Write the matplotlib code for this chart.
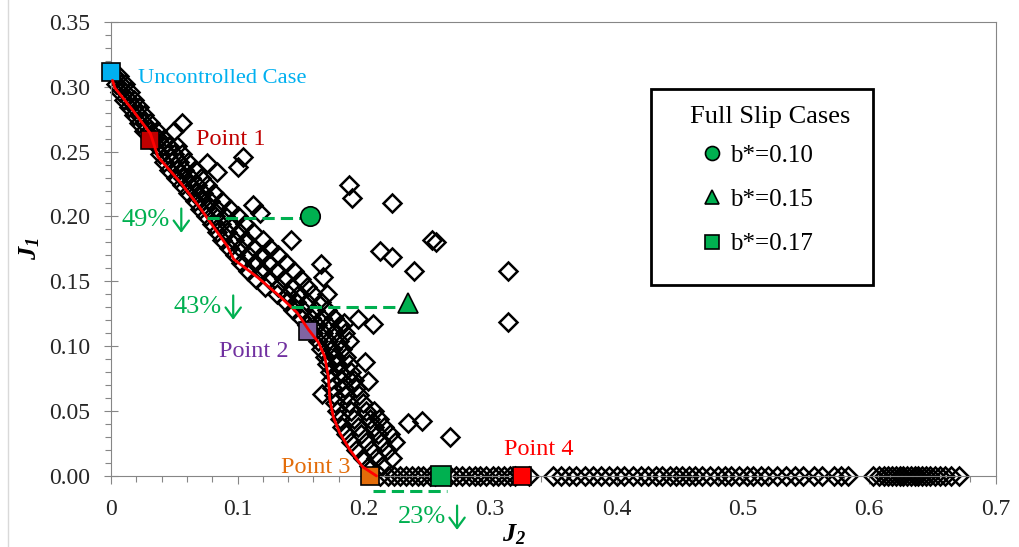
import matplotlib
matplotlib.use('Agg')
import matplotlib.pyplot as plt
from matplotlib.ticker import MultipleLocator, FuncFormatter
from matplotlib.lines import Line2D
from matplotlib.patches import Rectangle
from matplotlib.transforms import offset_copy

plt.rcParams['font.family'] = ['Liberation Serif', 'DejaVu Sans']
plt.rcParams['mathtext.fontset'] = 'custom'
plt.rcParams['mathtext.it'] = 'Liberation Serif:italic:bold'
plt.rcParams['mathtext.rm'] = 'Liberation Serif:italic:bold'

# Pareto front (red line)
FRONT_J2 = [0.001, 0.003, 0.017, 0.031, 0.037, 0.055, 0.070, 0.092, 0.097, 0.116,
            0.134, 0.147, 0.156, 0.164, 0.169, 0.172, 0.173, 0.176, 0.181, 0.189,
            0.199, 0.210]
FRONT_J1 = [0.305, 0.299, 0.282, 0.264, 0.246, 0.226, 0.207, 0.177, 0.167, 0.153,
            0.138, 0.126, 0.113, 0.103, 0.092, 0.076, 0.059, 0.045, 0.033, 0.020,
            0.007, 0.000]

# evaluated designs along the front, grouped by J1 level: (J1, J2 values)
BAND = [
    (0.308, [0.003, 0.006]),
    (0.302, [0.004, 0.008, 0.011]),
    (0.296, [0.007, 0.011, 0.015]),
    (0.290, [0.010, 0.014, 0.018]),
    (0.284, [0.014, 0.018, 0.022]),
    (0.278, [0.018, 0.022, 0.026]),
    (0.272, [0.022, 0.026, 0.031]),
    (0.266, [0.026, 0.031, 0.036]),
    (0.260, [0.034, 0.038, 0.042]),
    (0.254, [0.036, 0.041, 0.046, 0.052]),
    (0.248, [0.039, 0.045, 0.050, 0.056]),
    (0.242, [0.042, 0.048, 0.054, 0.061]),
    (0.236, [0.046, 0.052, 0.058, 0.066]),
    (0.230, [0.051, 0.057, 0.063, 0.071]),
    (0.224, [0.056, 0.062, 0.068, 0.076]),
    (0.218, [0.061, 0.067, 0.073, 0.081]),
    (0.212, [0.066, 0.072, 0.078, 0.088]),
    (0.206, [0.070, 0.077, 0.084, 0.094]),
    (0.200, [0.075, 0.082, 0.090, 0.100]),
    (0.194, [0.080, 0.087, 0.095, 0.106]),
    (0.188, [0.084, 0.092, 0.101, 0.112]),
    (0.182, [0.088, 0.097, 0.107, 0.120]),
    (0.176, [0.093, 0.102, 0.113, 0.126]),
    (0.170, [0.098, 0.108, 0.119, 0.132]),
    (0.164, [0.103, 0.114, 0.125, 0.138]),
    (0.158, [0.108, 0.119, 0.131, 0.145]),
    (0.152, [0.115, 0.125, 0.137, 0.150]),
    (0.146, [0.122, 0.132, 0.143, 0.155]),
    (0.140, [0.131, 0.140, 0.149, 0.160]),
    (0.134, [0.138, 0.146, 0.155, 0.166]),
    (0.128, [0.144, 0.152, 0.161, 0.171]),
    (0.122, [0.150, 0.158, 0.167, 0.176]),
    (0.116, [0.155, 0.163, 0.172, 0.181]),
    (0.110, [0.160, 0.168, 0.176, 0.185]),
    (0.104, [0.164, 0.172, 0.180, 0.188]),
    (0.098, [0.166, 0.175, 0.183]),
    (0.092, [0.169, 0.177, 0.186]),
    (0.086, [0.171, 0.179, 0.188]),
    (0.080, [0.173, 0.181, 0.190]),
    (0.074, [0.174, 0.183, 0.192]),
    (0.068, [0.175, 0.184, 0.194]),
    (0.062, [0.176, 0.186, 0.196]),
    (0.056, [0.177, 0.188, 0.199]),
    (0.050, [0.179, 0.190, 0.202, 0.208]),
    (0.044, [0.181, 0.192, 0.205, 0.212]),
    (0.038, [0.183, 0.195, 0.208, 0.216]),
    (0.032, [0.186, 0.198, 0.211, 0.221]),
    (0.026, [0.190, 0.202, 0.214, 0.225]),
    (0.020, [0.194, 0.206, 0.218]),
    (0.014, [0.199, 0.210, 0.222]),
    (0.008, [0.204, 0.214]),
]

# scattered designs away from the front
OUTLIER_J2 = [0.056, 0.050, 0.076, 0.084, 0.100, 0.104, 0.112, 0.118, 0.142, 0.166,
              0.168, 0.171, 0.184, 0.195, 0.207, 0.188, 0.191, 0.222, 0.213, 0.222,
              0.240, 0.254, 0.257, 0.314, 0.314, 0.201, 0.203, 0.167, 0.191, 0.235,
              0.246, 0.268]
OUTLIER_J1 = [0.272, 0.266, 0.241, 0.234, 0.238, 0.246, 0.209, 0.203, 0.182, 0.163,
              0.153, 0.140, 0.118, 0.121, 0.117, 0.224, 0.214, 0.210, 0.173, 0.169,
              0.158, 0.182, 0.180, 0.158, 0.119, 0.088, 0.073, 0.063, 0.072, 0.041,
              0.042, 0.030]

# designs with J1 = 0
ZERO_J2 = [0.213, 0.219, 0.224, 0.229, 0.233, 0.238, 0.243, 0.247, 0.252, 0.256,
           0.268, 0.273, 0.278, 0.283, 0.288, 0.292, 0.297, 0.302, 0.306, 0.311,
           0.316, 0.320, 0.331, 0.350, 0.356, 0.362, 0.368, 0.375, 0.381, 0.388,
           0.394, 0.400, 0.406, 0.413, 0.419, 0.425, 0.431, 0.436, 0.442, 0.447,
           0.452, 0.457, 0.462, 0.468, 0.474, 0.480, 0.486, 0.491, 0.497, 0.503,
           0.508, 0.514, 0.520, 0.527, 0.534, 0.541, 0.548, 0.556, 0.563, 0.572,
           0.578, 0.583, 0.603, 0.608, 0.612, 0.615, 0.618, 0.621, 0.624, 0.627,
           0.630, 0.633, 0.636, 0.639, 0.642, 0.645, 0.648, 0.652, 0.656, 0.660,
           0.665, 0.671]

# highlighted designs
POINT_NAMES = ['Uncontrolled Case', 'Point 1', 'Point 2', 'Point 3', 'Point 4']
POINT_J2 = [0.000, 0.031, 0.156, 0.205, 0.325]
POINT_J1 = [0.311, 0.259, 0.112, 0.000, 0.000]

# full slip cases
SLIP_LABELS = ['b*=0.10', 'b*=0.15', 'b*=0.17']
SLIP_J2 = [0.157, 0.235, 0.261]
SLIP_J1 = [0.200, 0.133, 0.000]

# reductions relative to the full slip cases
REDUCTION_TEXT = ['49%', '43%', '23%']
REDUCTION_J1 = [0.199, 0.130, -0.012]
REDUCTION_FROM = [0.076, 0.142, 0.207]
REDUCTION_TO = [0.157, 0.235, 0.266]


def main():
    fig = plt.figure(figsize=(10.2, 5.47), dpi=100)
    ax = fig.add_axes([0.109, 0.130, 0.867, 0.830])

    band_j2 = [x for _, xs in BAND for x in xs]
    band_j1 = [y for y, xs in BAND for _ in xs]

    diamond = dict(marker='D', ms=9.6, mfc='none', mec='black', mew=1.8,
                   ls='none', clip_on=False, zorder=2)
    ax.plot(band_j2, band_j1, **diamond)
    ax.plot(OUTLIER_J2, OUTLIER_J1, **diamond)
    ax.plot(ZERO_J2, [0.0] * len(ZERO_J2), **diamond)

    # highlighted points
    fills = ['#00B0F0', '#C00000', '#8064A2', '#E36C09', '#FF0000']
    text_cols = ['#00B0F0', '#C00000', '#7030A0', '#E36C09', '#FF0000']
    offsets = [(19, -4), (33, 0), (-39, -15), (-14, 6), (12, 19)]
    aligns = ['left', 'left', 'center', 'right', 'center']
    sizes = [16.2, 17.5, 17.5, 17.5, 17.5]
    for name, x, y, fc, tc, off, ha, fs in zip(POINT_NAMES, POINT_J2, POINT_J1, fills,
                                              text_cols, offsets, aligns, sizes):
        ax.plot([x], [y], marker='s', ms=13.5, mfc=fc, mec='black', mew=1.2,
                ls='none', clip_on=False, zorder=3)
        ax.annotate(name, (x, y), xytext=off, textcoords='offset points',
                    ha=ha, va='center', color=tc, fontsize=fs, zorder=6,
                    annotation_clip=False)

    ax.plot(FRONT_J2, FRONT_J1, color='#FF0000', lw=2.0, zorder=4,
            clip_on=False, solid_capstyle='round')

    # reduction lines and labels with a thin down arrow
    green = '#00B050'
    text_pos = [(0.0467, 0.197), (0.0878, 0.130), (0.265, -0.032)]
    for txt, y, x0, x1, (tx, ty) in zip(REDUCTION_TEXT, REDUCTION_J1, REDUCTION_FROM,
                                        REDUCTION_TO, text_pos):
        ax.plot([x0, x1], [y, y], color=green, lw=2.2, ls=(0, (4, 2)),
                zorder=5, clip_on=False)
        ax.text(tx, ty, txt, color=green, fontsize=19, ha='right',
                va='center', zorder=6, clip_on=False)
        top = offset_copy(ax.transData, fig=fig, x=8, y=8.5, units='points')
        bot = offset_copy(ax.transData, fig=fig, x=8, y=-9, units='points')
        ax.annotate('', xy=(tx, ty), xycoords=bot, xytext=(tx, ty), textcoords=top,
                    arrowprops=dict(arrowstyle='->, head_width=0.55, head_length=0.75',
                                    color=green, lw=1.6, shrinkA=0, shrinkB=0,
                                    mutation_scale=10),
                    annotation_clip=False, zorder=6)

    # full slip markers
    slip_handles = []
    for lab, x, y, m in zip(SLIP_LABELS, SLIP_J2, SLIP_J1, ['o', '^', 's']):
        h, = ax.plot([x], [y], marker=m, ms=14, mfc=green, mec='black', mew=1.2,
                     ls='none', clip_on=False, zorder=5, label=lab)
        slip_handles.append(h)

    box = Rectangle((0.610, 0.4207), 0.251, 0.432, transform=ax.transAxes,
                    facecolor='white', edgecolor='black', lw=2.0, zorder=7)
    ax.add_patch(box)
    ax.text(0.745, 0.791, 'Full Slip Cases', transform=ax.transAxes, fontsize=19,
            ha='center', va='center', zorder=8)
    leg = ax.legend(handles=slip_handles, loc='upper left',
                    bbox_to_anchor=(0.660, 0.730), fontsize=18,
                    markerscale=0.72, handlelength=1.4, handletextpad=0.0,
                    labelspacing=0.87, borderpad=0, borderaxespad=0, frameon=False)
    leg.set_zorder(8)

    # axes
    ax.set_xlim(0, 0.7)
    ax.set_ylim(0, 0.35)
    ax.xaxis.set_major_locator(MultipleLocator(0.1))
    ax.xaxis.set_minor_locator(MultipleLocator(0.02))
    ax.yaxis.set_major_locator(MultipleLocator(0.05))
    ax.yaxis.set_minor_locator(MultipleLocator(0.01))
    ax.xaxis.set_major_formatter(FuncFormatter(lambda v, p: '0' if abs(v) < 1e-9 else f'{v:.1f}'))
    ax.yaxis.set_major_formatter(FuncFormatter(lambda v, p: f'{v:.2f}'))

    grey = '#868686'
    for sp in ax.spines.values():
        sp.set_color(grey)
        sp.set_linewidth(0.8)
    ax.tick_params(axis='x', which='major', direction='out', length=6, width=0.8,
                   color=grey, labelsize=17, pad=10.5, labelcolor='#262626')
    ax.tick_params(axis='x', which='minor', direction='out', length=4, width=0.8, color=grey)
    ax.tick_params(axis='y', which='major', direction='inout', length=10, width=0.8,
                   color=grey, labelsize=17, pad=10, labelcolor='#262626')
    ax.tick_params(axis='y', which='minor', direction='out', length=4, width=0.8, color=grey)

    ax.set_xlabel('$J_2$', fontsize=19)
    ax.xaxis.set_label_coords(0.456, -0.102)
    ax.set_ylabel('$J_1$', fontsize=19, labelpad=5)

    fig.add_artist(Line2D([0.008, 0.008], [0.0, 1.0], color='#D9D9D9', lw=1.0))

    fig.savefig('out.png', dpi=100, facecolor='white')


if __name__ == '__main__':
    main()
